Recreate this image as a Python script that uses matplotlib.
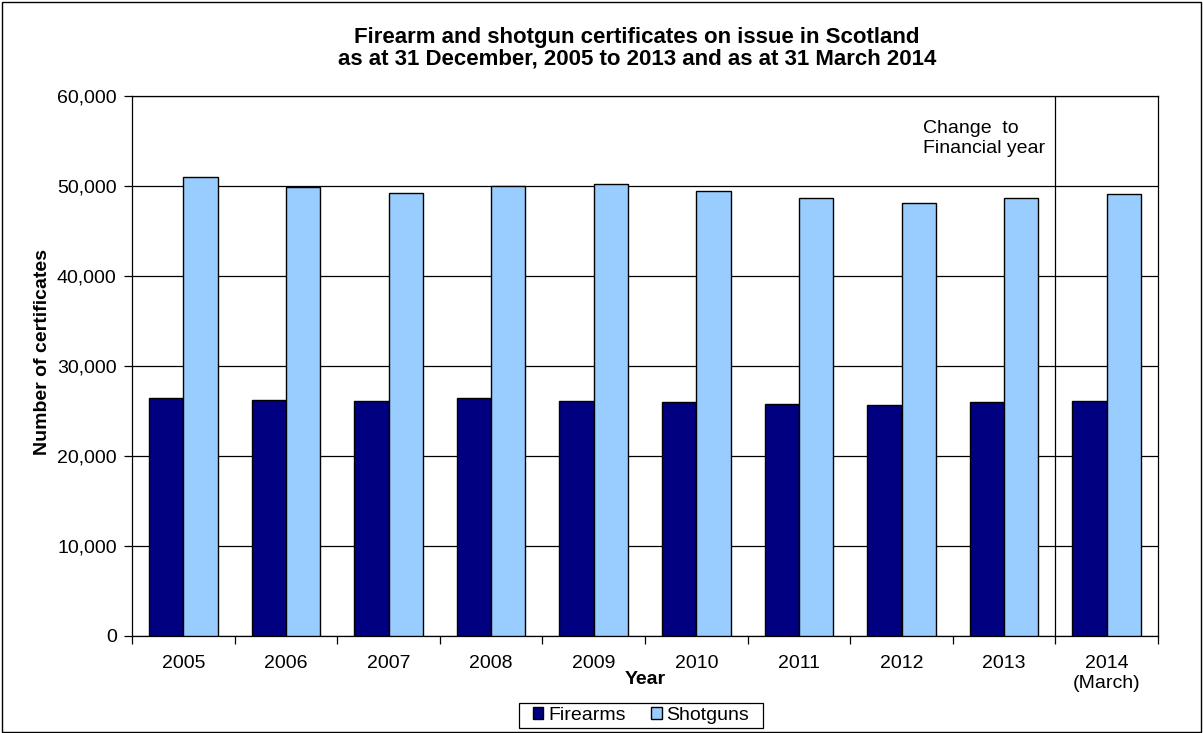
import matplotlib
matplotlib.use("Agg")
import matplotlib.pyplot as plt
import numpy as np
from matplotlib.patches import Rectangle
from matplotlib.ticker import FuncFormatter, FixedLocator

plt.rcParams['font.family'] = ['Liberation Sans', 'DejaVu Sans']

categories = ['2005', '2006', '2007', '2008', '2009', '2010', '2011', '2012', '2013', '2014\n(March)']
firearms = [26500, 26270, 26100, 26390, 26100, 26020, 25800, 25690, 26020, 26130]
shotguns = [51000, 49900, 49190, 50000, 50260, 49410, 48670, 48120, 48710, 49110]

title = "Firearm and shotgun certificates on issue in Scotland\nas at 31 December, 2005 to 2013 and as at 31 March 2014"

FS = 14

fig = plt.figure(figsize=(12.03, 7.33), dpi=100)
ax = fig.add_axes([132/1203, 97/733, 1026/1203, 540/733])

x = np.arange(len(categories))
w = 0.335
ax.bar(x - w/2, firearms, w, color='#000080', edgecolor='black', linewidth=1.0, label='Firearms', zorder=3)
ax.bar(x + w/2, shotguns, w, color='#99CCFF', edgecolor='black', linewidth=1.0, label='Shotguns', zorder=3)

ax.set_xlim(-0.5, len(categories) - 0.5)
ax.set_ylim(0, 60000)
ax.set_yticks(np.arange(0, 60001, 10000))
ax.yaxis.set_major_formatter(FuncFormatter(lambda v, p: f"{int(v):,}"))
ax.grid(axis='y', color='black', linewidth=0.9, zorder=0)

ax.set_xticks(x)
ax.set_xticklabels(categories, fontsize=FS, linespacing=1.2)
ax.tick_params(axis='x', which='major', length=0, pad=14)
ax.xaxis.set_minor_locator(FixedLocator(np.arange(-0.5, len(categories), 1.0)))
ax.tick_params(axis='x', which='minor', length=6, width=0.9, direction='out')
ax.tick_params(axis='y', labelsize=FS, length=6, width=0.9, pad=5)
for s in ax.spines.values():
    s.set_linewidth(0.9)
    s.set_color('black')

ax.axvline(len(categories) - 1.5, color='black', linewidth=0.9, zorder=4)
ax.text(7.21, 55300, "Change  to\nFinancial year", fontsize=FS,
        ha='left', va='center', linespacing=1.25)

ax.set_ylabel("Number of certificates", fontsize=FS, fontweight='bold')
ax.yaxis.set_label_coords(-0.079, 0.526)
fig.text(645/1203, 1 - 680/733, "Year", fontsize=FS, fontweight='bold', ha='center', va='center')
fig.text(637/1203, 1 - 48/733, title, fontsize=16, fontweight='bold', ha='center', va='center',
         linespacing=1.05)

leg = fig.legend(loc='center', bbox_to_anchor=(641/1203, 1 - 715.5/733), ncol=2, fontsize=FS,
                 frameon=False, handlelength=0.55, handleheight=0.55,
                 handletextpad=0.25, columnspacing=1.3, borderpad=0.2, borderaxespad=0)
fig.patches.append(Rectangle((519/1203, 1 - 728/733), 244/1203, 25/733, transform=fig.transFigure,
                             fill=False, edgecolor='black', linewidth=0.9))

fig.patches.append(Rectangle((0.0015, 0.0015), 0.997, 0.996, transform=fig.transFigure,
                             fill=False, edgecolor='black', linewidth=1.0))

fig.savefig("out.png", dpi=100)
